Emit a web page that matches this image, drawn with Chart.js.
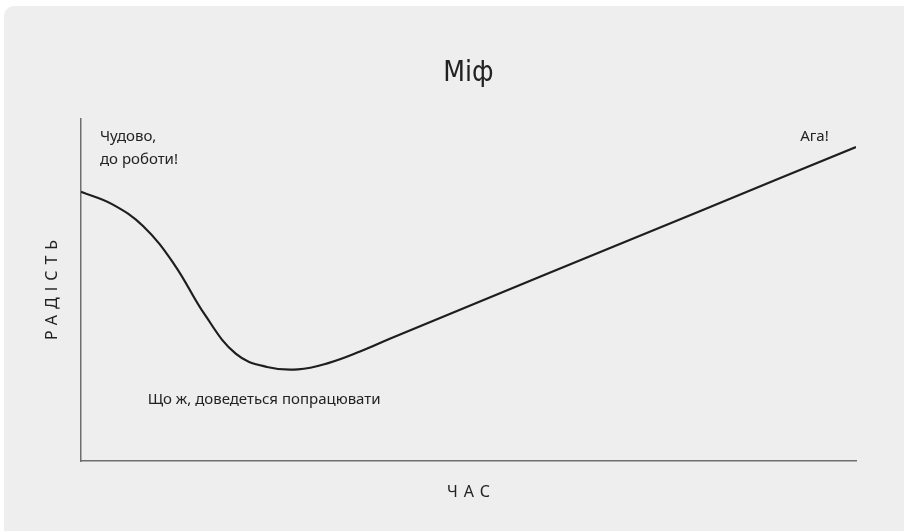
<!DOCTYPE html>
<html>
<head>
<meta charset="utf-8">
<script src="https://cdn.jsdelivr.net/npm/chart.js"></script>
<style>
  html, body { margin: 0; padding: 0; background: #ffffff; }
  #card {
    position: absolute; left: 4px; top: 6px;
    width: 900px; height: 525px;
    background: #eeeeee;
    border-top-left-radius: 10px;
  }
</style>
</head>
<body>
<div id="card"><canvas id="myth" width="900" height="525"></canvas></div>
<script>
// Curve samples (time 0..100, joy 0..100)
const timeValues = [0, 4, 8, 12, 16, 20, 24, 28, 32, 36, 40, 60, 80, 100];
const joyValues = [78.7, 75.1, 68.7, 57.6, 42.7, 31.3, 27.5, 26.8, 28.7, 32.0, 35.9, 54.6, 73.2, 91.8];

const chartTitle = 'Міф';
const xTitle = 'ЧАС';
const yTitle = 'РАДІСТЬ';

// Text notes placed in data units (baseline of first line)
const notes = [
  { x: 2.45, y: 93.6, lines: ['Чудово,', 'до роботи!'] },
  { x: 92.8, y: 93.6, lines: ['Ага!'] },
  { x: 8.6, y: 16.7, lines: ['Що ж, доведеться попрацювати'] }
];

const FONT = '"Noto Sans", "Open Sans", sans-serif';
const INK = '#222222';

const textPlugin = {
  id: 'mythText',
  afterDraw(chart) {
    const { ctx, chartArea, scales } = chart;
    const midX = (chartArea.left + chartArea.right) / 2;
    ctx.save();
    ctx.fillStyle = INK;
    ctx.textBaseline = 'alphabetic';

    // title
    ctx.font = '28px "DejaVu Sans Condensed", "Liberation Sans Narrow", ' + FONT;
    ctx.textAlign = 'center';
    ctx.fillText(chartTitle, midX, 75);

    // notes
    ctx.font = '15px ' + FONT;
    ctx.textAlign = 'left';
    notes.forEach(n => {
      const px = scales.x.getPixelForValue(n.x);
      const py = scales.y.getPixelForValue(n.y);
      n.lines.forEach((line, i) => ctx.fillText(line, px, py + i * 23));
    });

    // axis titles with letter spacing
    ctx.font = '16px ' + FONT;
    ctx.letterSpacing = '6px';
    ctx.textAlign = 'center';
    ctx.textBaseline = 'middle';
    ctx.fillText(xTitle, midX + 3, chartArea.bottom + 31);

    ctx.translate(chartArea.left - 29, 284);
    ctx.rotate(-Math.PI / 2);
    ctx.fillText(yTitle, 3, 0);
    ctx.restore();
  }
};

new Chart(document.getElementById('myth'), {
  type: 'line',
  data: {
    datasets: [{
      data: timeValues.map((t, i) => ({ x: t, y: joyValues[i] })),
      borderColor: '#1e1e1e',
      borderWidth: 2.2,
      pointRadius: 0,
      tension: 0.4,
      fill: false
    }]
  },
  options: {
    responsive: false,
    animation: false,
    layout: { padding: { left: 69, top: 113, right: 48, bottom: 62 } },
    plugins: {
      legend: { display: false },
      title: { display: false },
      tooltip: { enabled: false }
    },
    scales: {
      x: {
        type: 'linear', min: 0, max: 100,
        grid: { display: false },
        ticks: { display: false },
        border: { display: true, color: '#6e6e6e', width: 1.5 }
      },
      y: {
        min: 0, max: 100,
        grid: { display: false },
        ticks: { display: false },
        border: { display: true, color: '#6e6e6e', width: 1.5 }
      }
    }
  },
  plugins: [textPlugin]
});
</script>
</body>
</html>
